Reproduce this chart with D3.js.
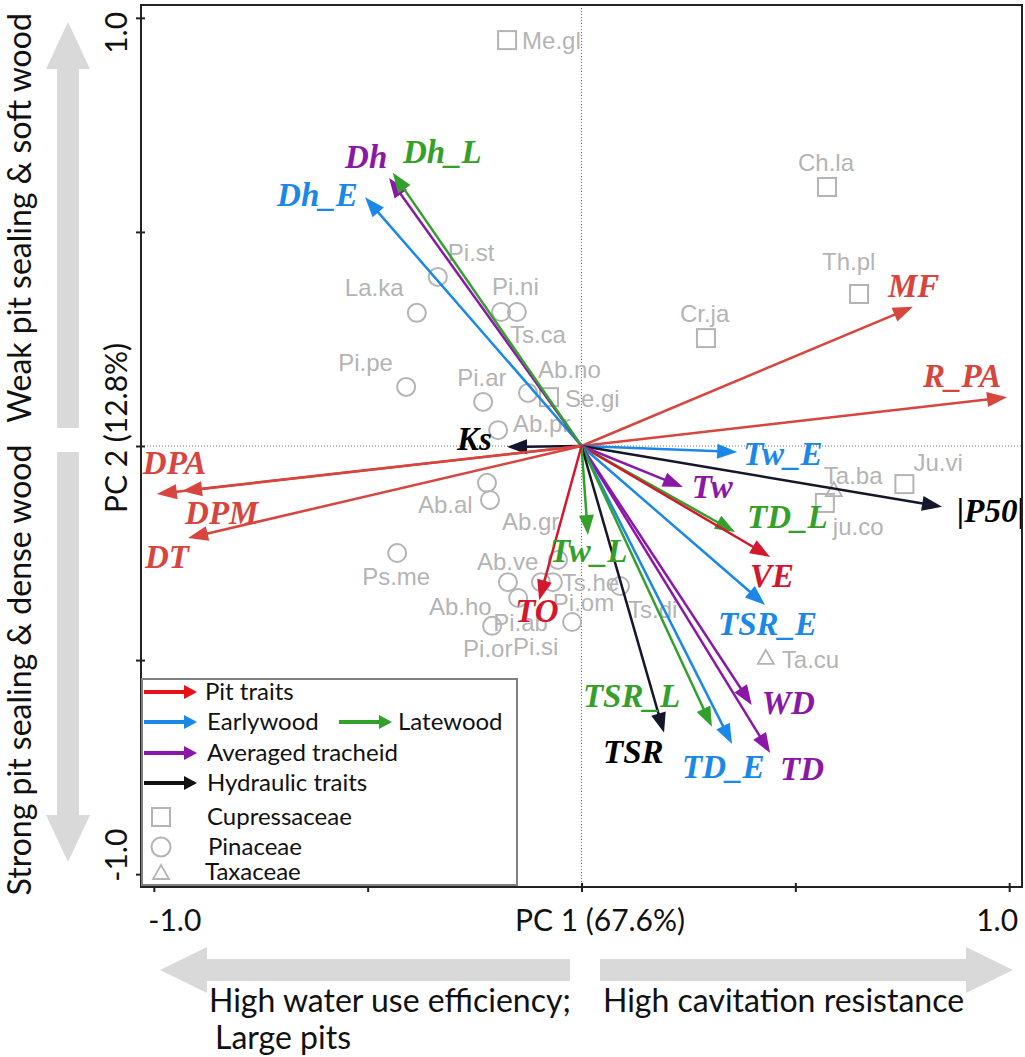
<!DOCTYPE html>
<html>
<head>
<meta charset="utf-8">
<script src="https://cdn.jsdelivr.net/npm/d3@7/dist/d3.min.js"></script>
<style>
  body { margin: 0; background: #fff; }
  svg { display: block; }
</style>
</head>
<body>
<svg id="chart" width="1025" height="1057"></svg>
<script>
// trait loadings (arrows)
const traitNames = ['Dh_E', 'Dh', 'Dh_L', 'Ks', 'DPA', 'DPM', 'DT', 'MF', 'R_PA', 'Tw_E', '|P50|',
  'Tw', 'TD_L', 'VE', 'TSR_E', 'WD', 'TD', 'TD_E', 'TSR_L', 'TSR', 'Tw_L', 'TO'];
const traitPC1 = [-0.506, -0.450, -0.441, -0.174, -0.993, -0.934, -0.920, 0.775, 0.995, 0.364, 0.843,
  0.237, 0.359, 0.441, 0.429, 0.398, 0.441, 0.352, 0.305, 0.193, 0.015, -0.099];
const traitPC2 = [0.581, 0.626, 0.638, -0.002, -0.112, -0.105, -0.215, 0.325, 0.114, -0.014, -0.142,
  -0.096, -0.201, -0.259, -0.371, -0.605, -0.717, -0.696, -0.656, -0.670, -0.208, -0.360];
const traitGroup = ['early', 'avg', 'late', 'hyd', 'pit', 'pit', 'pit', 'pit', 'pit', 'early', 'hyd',
  'avg', 'late', 'pit2', 'early', 'avg', 'avg', 'early', 'late', 'hyd', 'late', 'pit2'];

// species scores (points)
const speciesNames = ['Me.gl', 'Ch.la', 'Th.pl', 'Cr.ja', 'Se.gi', 'Ju.vi', 'ju.co', 'Ta.ba', 'Ta.cu',
  'Pi.st', 'La.ka', 'Pi.ni', 'Ts.ca', 'Pi.pe', 'Pi.ar', 'Ab.no', 'Ab.pr', 'Ab.al', 'Ab.gr', 'Ps.me',
  'Ab.ve', 'Ts.he', 'Ab.ho', 'Pi.om', 'Pi.ab', 'Pi.or', 'Pi.si', 'Ts.di'];
const speciesPC1 = [-0.174, 0.574, 0.649, 0.291, -0.076, 0.755, 0.569, 0.590, 0.431,
  -0.336, -0.385, -0.188, -0.151, -0.410, -0.230, -0.125, -0.195, -0.221, -0.214, -0.431,
  -0.055, -0.067, -0.172, -0.095, -0.148, -0.209, -0.022, 0.090];
const speciesPC2 = [0.948, 0.605, 0.355, 0.252, 0.114, -0.089, -0.133, -0.103, -0.495,
  0.395, 0.311, 0.313, 0.313, 0.138, 0.103, 0.124, 0.037, -0.086, -0.126, -0.250,
  -0.266, -0.318, -0.318, -0.318, -0.355, -0.420, -0.411, -0.327];
const speciesFamily = ['Cup', 'Cup', 'Cup', 'Cup', 'Cup', 'Cup', 'Cup', 'Tax', 'Tax',
  'Pin', 'Pin', 'Pin', 'Pin', 'Pin', 'Pin', 'Pin', 'Pin', 'Pin', 'Pin', 'Pin',
  'Pin', 'Pin', 'Pin', 'Pin', 'Pin', 'Pin', 'Pin', 'Pin'];

const tickValues = [-1, -0.5, 0, 0.5, 1];
const legendArrows = ['Pit traits', 'Earlywood', 'Latewood', 'Averaged tracheid', 'Hydraulic traits'];
const legendFamilies = ['Cupressaceae', 'Pinaceae', 'Taxaceae'];

// label placement (pixels, relative to arrow tip / point)
const traitLabelOffset = {
  'Dh_E': [-88, 9], 'Dh': [-44, -10], 'Dh_L': [10, -10], 'Ks': [-50, 3], 'DPA': [-14, -20],
  'DPM': [3, 33], 'DT': [-43, 30], 'MF': [-25, -10], 'R_PA': [-84, -10], 'Tw_E': [6, 13],
  '|P50|': [15, 15], 'Tw': [9, 11], 'TD_L': [12, -4], 'VE': [-20, 30], 'TSR_E': [-47, 30],
  'WD': [10, 9], 'TD': [10, 27], 'TD_E': [-50, 34], 'TSR_L': [-129, -20], 'TSR': [-61, 30],
  'Tw_L': [-38, 27], 'TO': [-24, 22]
};
const speciesLabelOffset = {
  'Me.gl': [15, 0], 'Ch.la': [-29, -24], 'Th.pl': [-37, -32], 'Cr.ja': [-26, -25], 'Se.gi': [16, 1],
  'Ju.vi': [9, -22], 'ju.co': [8, 24], 'Ta.ba': [-10, -15], 'Ta.cu': [16, 2], 'Pi.st': [10, -24],
  'La.ka': [-72, -25], 'Pi.ni': [-9, -25], 'Ts.ca': [-7, 23], 'Pi.pe': [-68, -24], 'Pi.ar': [-26, -24],
  'Ab.no': [10, -23], 'Ab.pr': [15, -7], 'Ab.al': [-69, 22], 'Ab.gr': [12, 22], 'Ps.me': [-35, 24],
  'Ab.ve': [-81, 2], 'Ts.he': [9, 0], 'Ab.ho': [-79, 24], 'Pi.om': [12, 20], 'Pi.ab': [-25, 25],
  'Pi.or': [-29, 23], 'Pi.si': [-59, 25], 'Ts.di': [8, 24]
};

const colors = {
  pit: '#d8453e', pit2: '#d3182e', early: '#1a88e8', late: '#34a02c', avg: '#8b17a8', hyd: '#141629'
};
const legendColors = ['#e80f17', '#1a88e8', '#34a02c', '#8b17a8', '#111111'];
const grey = '#b4b4b4';
const bandGrey = '#d9d9d9';
const sansFont = 'Lato, "Noto Sans", sans-serif';

const svg = d3.select('#chart');
const frame = {left: 141, right: 1022, top: 5, bottom: 887};

const x = d3.scaleLinear().domain([-1.03, 1.03]).range([frame.left, frame.right]);
const y = d3.scaleLinear().domain([-1.03, 1.03]).range([frame.bottom, frame.top]);

// zero lines
svg.append('line')
  .attr('x1', x(0)).attr('x2', x(0)).attr('y1', frame.top).attr('y2', frame.bottom)
  .attr('stroke', '#777').attr('stroke-width', 1).attr('stroke-dasharray', '1,2');
svg.append('line')
  .attr('x1', frame.left).attr('x2', frame.right).attr('y1', y(0)).attr('y2', y(0))
  .attr('stroke', '#777').attr('stroke-width', 1).attr('stroke-dasharray', '1,2');

// species markers
const species = speciesNames.map((name, i) => ({
  name, pc1: speciesPC1[i], pc2: speciesPC2[i], family: speciesFamily[i]
}));

const spG = svg.append('g');
spG.selectAll('rect').data(species.filter(d => d.family === 'Cup')).enter()
  .append('rect')
  .attr('x', d => x(d.pc1) - 9).attr('y', d => y(d.pc2) - 9)
  .attr('width', 18).attr('height', 18)
  .attr('fill', 'none').attr('stroke', grey).attr('stroke-width', 2);
spG.selectAll('circle').data(species.filter(d => d.family === 'Pin')).enter()
  .append('circle')
  .attr('cx', d => x(d.pc1)).attr('cy', d => y(d.pc2)).attr('r', 9)
  .attr('fill', 'none').attr('stroke', grey).attr('stroke-width', 2);
spG.selectAll('path').data(species.filter(d => d.family === 'Tax')).enter()
  .append('path')
  .attr('d', d => {
    const cx = x(d.pc1), cy = y(d.pc2);
    return `M${cx},${cy - 8}L${cx + 8},${cy + 6}L${cx - 8},${cy + 6}Z`;
  })
  .attr('fill', 'none').attr('stroke', grey).attr('stroke-width', 1.8);
spG.selectAll('text').data(species).enter()
  .append('text')
  .attr('x', d => x(d.pc1) + speciesLabelOffset[d.name][0])
  .attr('y', d => y(d.pc2) + speciesLabelOffset[d.name][1])
  .attr('dy', '0.35em')
  .attr('font-family', '"Liberation Sans", Arial, sans-serif')
  .attr('font-size', 24)
  .attr('fill', grey)
  .text(d => d.name);

// arrow helper: line from (x0,y0) to tip with a filled head
function arrow(g, x0, y0, x1, y1, color, width, headLen, headHalf) {
  const dx = x1 - x0, dy = y1 - y0;
  const len = Math.sqrt(dx * dx + dy * dy);
  const ux = dx / len, uy = dy / len;
  const bx = x1 - ux * headLen, by = y1 - uy * headLen;
  g.append('line')
    .attr('x1', x0).attr('y1', y0).attr('x2', bx + ux * 2).attr('y2', by + uy * 2)
    .attr('stroke', color).attr('stroke-width', width);
  g.append('path')
    .attr('d', `M${x1},${y1}L${bx - uy * headHalf},${by + ux * headHalf}L${bx + uy * headHalf},${by - ux * headHalf}Z`)
    .attr('fill', color);
}

const traits = traitNames.map((name, i) => ({
  name, pc1: traitPC1[i], pc2: traitPC2[i], group: traitGroup[i]
}));

const arG = svg.append('g');
traits.forEach(d => {
  arrow(arG, x(0), y(0), x(d.pc1), y(d.pc2), colors[d.group], 2.5, 20, 7.5);
});

arG.selectAll('text').data(traits).enter()
  .append('text')
  .attr('x', d => x(d.pc1) + traitLabelOffset[d.name][0])
  .attr('y', d => y(d.pc2) + traitLabelOffset[d.name][1])
  .attr('font-family', '"Liberation Serif", "Times New Roman", serif')
  .attr('font-weight', 'bold')
  .attr('font-style', 'italic')
  .attr('font-size', 33)
  .attr('fill', d => d.group === 'hyd' ? '#000' : colors[d.group])
  .text(d => d.name);

// frame + ticks
svg.append('rect')
  .attr('x', frame.left).attr('y', frame.top)
  .attr('width', frame.right - frame.left).attr('height', frame.bottom - frame.top)
  .attr('fill', 'none').attr('stroke', '#222').attr('stroke-width', 2);

const yAxis = svg.append('g')
  .attr('transform', `translate(${frame.left + 4},0)`)
  .call(d3.axisLeft(y).tickValues(tickValues).tickSize(9).tickSizeOuter(0).tickFormat(''));
yAxis.select('.domain').remove();
yAxis.selectAll('line').attr('stroke', '#222').attr('stroke-width', 2);

const xAxis = svg.append('g')
  .attr('transform', `translate(0,${frame.bottom - 4})`)
  .call(d3.axisBottom(x).tickValues(tickValues).tickSize(9).tickSizeOuter(0).tickFormat(''));
xAxis.select('.domain').remove();
xAxis.selectAll('line').attr('stroke', '#222').attr('stroke-width', 2);

// axis labels
const xLab = svg.append('g').attr('font-family', sansFont).attr('font-size', 30).attr('fill', '#111');
xLab.append('text').attr('x', x(-1) + 21).attr('y', 931).attr('text-anchor', 'middle').text('-1.0');
xLab.append('text').attr('x', x(1) - 12).attr('y', 931).attr('text-anchor', 'middle').text('1.0');
xLab.append('text').attr('x', 600).attr('y', 931).attr('text-anchor', 'middle').text('PC 1 (67.6%)');

const yLab = svg.append('g').attr('font-family', sansFont).attr('font-size', 30).attr('fill', '#111');
yLab.append('text').attr('transform', `translate(127,${y(1) + 15}) rotate(-90)`)
  .attr('text-anchor', 'middle').text('1.0');
yLab.append('text').attr('transform', `translate(127,${y(-1) - 19}) rotate(-90)`)
  .attr('text-anchor', 'middle').text('-1.0');
yLab.append('text').attr('transform', `translate(127,428) rotate(-90)`)
  .attr('text-anchor', 'middle').text('PC 2 (12.8%)');

// big grey direction arrows
function bandArrowH(x1, x2, yc) {
  // x1 = tip, x2 = tail
  const s = x2 > x1 ? 1 : -1;
  const hb = x1 + s * 47;
  return `M${x1},${yc}L${hb},${yc - 23}L${hb},${yc - 11}L${x2},${yc - 11}L${x2},${yc + 11}L${hb},${yc + 11}L${hb},${yc + 23}Z`;
}
function bandArrowV(y1, y2, xc) {
  const s = y2 > y1 ? 1 : -1;
  const hb = y1 + s * 47;
  return `M${xc},${y1}L${xc - 22},${hb}L${xc - 11},${hb}L${xc - 11},${y2}L${xc + 11},${y2}L${xc + 11},${hb}L${xc + 22},${hb}Z`;
}
svg.append('path').attr('d', bandArrowH(160, 570, 970)).attr('fill', bandGrey);
svg.append('path').attr('d', bandArrowH(1013, 600, 970)).attr('fill', bandGrey);
svg.append('path').attr('d', bandArrowV(22, 428, 68)).attr('fill', bandGrey);
svg.append('path').attr('d', bandArrowV(862, 452, 68)).attr('fill', bandGrey);

const notes = svg.append('g').attr('font-family', sansFont).attr('font-size', 32).attr('fill', '#111');
notes.append('text').attr('x', 209).attr('y', 1012).text('High water use efficiency;');
notes.append('text').attr('x', 603).attr('y', 1012).text('High cavitation resistance');
notes.append('text').attr('x', 215).attr('y', 1049).text('Large pits');
notes.append('text').attr('transform', 'translate(31,218) rotate(-90)')
  .attr('text-anchor', 'middle').text('Weak pit sealing & soft wood');
notes.append('text').attr('transform', 'translate(31,670) rotate(-90)')
  .attr('text-anchor', 'middle').text('Strong pit sealing & dense wood');

// legend
const lg = svg.append('g');
lg.append('rect').attr('x', 142).attr('y', 679).attr('width', 375).attr('height', 206)
  .attr('fill', '#fff').attr('stroke', '#808080').attr('stroke-width', 2);

const legRows = [
  {label: legendArrows[0], color: legendColors[0], x0: 144, x1: 197, tx: 205, y: 692},
  {label: legendArrows[1], color: legendColors[1], x0: 144, x1: 197, tx: 207, y: 722},
  {label: legendArrows[2], color: legendColors[2], x0: 339, x1: 392, tx: 398, y: 722},
  {label: legendArrows[3], color: legendColors[3], x0: 144, x1: 197, tx: 207, y: 753},
  {label: legendArrows[4], color: legendColors[4], x0: 144, x1: 197, tx: 207, y: 783}
];
legRows.forEach(r => {
  arrow(lg, r.x0, r.y, r.x1, r.y, r.color, 4, 13, 7);
  lg.append('text').attr('x', r.tx).attr('y', r.y).attr('dy', '0.35em')
    .attr('font-family', sansFont).attr('font-size', 24).attr('fill', '#111').text(r.label);
});
lg.append('rect').attr('x', 152).attr('y', 808).attr('width', 18).attr('height', 18)
  .attr('fill', 'none').attr('stroke', grey).attr('stroke-width', 2);
lg.append('circle').attr('cx', 161).attr('cy', 847).attr('r', 9.5)
  .attr('fill', 'none').attr('stroke', grey).attr('stroke-width', 2);
lg.append('path').attr('d', 'M161,865L169,879L153,879Z')
  .attr('fill', 'none').attr('stroke', grey).attr('stroke-width', 1.8);
[[legendFamilies[0], 207, 817], [legendFamilies[1], 208, 847], [legendFamilies[2], 205, 872]].forEach(f => {
  lg.append('text').attr('x', f[1]).attr('y', f[2]).attr('dy', '0.35em')
    .attr('font-family', sansFont).attr('font-size', 24).attr('fill', '#111').text(f[0]);
});
</script>
</body>
</html>
